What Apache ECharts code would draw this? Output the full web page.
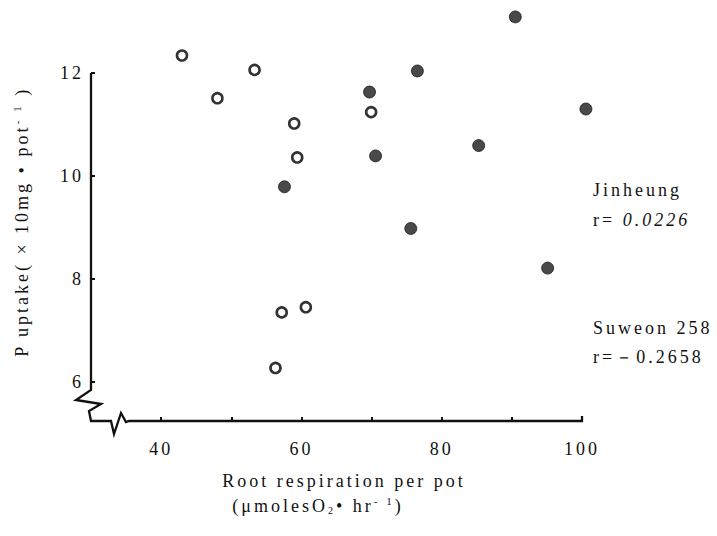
<!DOCTYPE html>
<html>
<head>
<meta charset="utf-8">
<script src="https://cdn.jsdelivr.net/npm/echarts@6/dist/echarts.min.js"></script>
<style>
  html, body { margin: 0; padding: 0; background: #fff; }
  #chart { width: 717px; height: 536px; }
  /* loosely tracked serif typesetting */
  #chart svg text { letter-spacing: 3px; font-family: 'Liberation Serif', serif !important; }
</style>
</head>
<body>
<div id="chart"></div>
<script>
// Root respiration (x) vs. P uptake (y), one pot per point
const suweonX = [42.97, 48.02, 53.32, 58.97, 59.40, 69.94, 57.19, 60.63, 56.30];
const suweonY = [12.34, 11.51, 12.06, 11.02, 10.36, 11.24, 7.35, 7.45, 6.27];
const jinheungX = [57.58, 69.71, 70.57, 75.59, 76.53, 85.27, 90.49, 95.10, 100.56];
const jinheungY = [9.79, 11.63, 10.39, 8.98, 12.04, 10.59, 13.09, 8.21, 11.30];

const xTicks = [40, 50, 60, 70, 80, 90, 100];
const xTickLabels = [40, 60, 80, 100];
const yTickLabels = [6, 8, 10, 12];
const xMin = 30, xMax = 100, yMin = 5.24, yMax = 12;

const serif = 'Liberation Serif, serif';
const ink = '#111';
const TRACKING = 3;

// text measuring that accounts for the letter spacing set in CSS
const measureCtx = document.createElement('canvas').getContext('2d');
echarts.setPlatformAPI({
  measureText: function (text, font) {
    measureCtx.font = font || '12px serif';
    const t = text == null ? '' : String(text);
    return { width: measureCtx.measureText(t).width + TRACKING * t.length };
  }
});

const pairs = (xs, ys) => xs.map((x, i) => [x, ys[i]]);

const chart = echarts.init(document.getElementById('chart'), null, { renderer: 'svg' });

chart.setOption({
  animation: false,
  backgroundColor: '#fff',
  grid: { left: 91, right: 135, top: 73, bottom: 115 },
  xAxis: {
    type: 'value', min: xMin, max: xMax, interval: 10,
    axisLine: { show: false },
    splitLine: { show: false },
    axisTick: { inside: true, length: 4, customValues: xTicks, lineStyle: { color: ink, width: 2 } },
    axisLabel: { customValues: xTickLabels, margin: 17, color: ink, fontFamily: serif, fontSize: 18 }
  },
  yAxis: {
    type: 'value', min: yMin, max: yMax,
    axisLine: { show: false },
    splitLine: { show: false },
    axisTick: { inside: true, length: 4, customValues: yTickLabels, lineStyle: { color: ink, width: 2 } },
    axisLabel: { customValues: yTickLabels, margin: 7, color: ink, fontFamily: serif, fontSize: 18 }
  },
  series: [
    {
      name: 'Suweon 258', type: 'scatter', clip: false,
      symbol: 'circle', symbolSize: 10,
      itemStyle: { color: '#fff', borderColor: '#000', borderWidth: 2.6 },
      data: pairs(suweonX, suweonY)
    },
    {
      name: 'Jinheung', type: 'scatter', clip: false,
      symbol: 'circle', symbolSize: 12,
      itemStyle: { color: '#1b1b1b', borderColor: '#000', borderWidth: 0.8 },
      data: pairs(jinheungX, jinheungY)
    }
  ]
});

// Axis lines with break marks, placed from the axis scales
function drawAxes() {
  const px = (x, y) => chart.convertToPixel({ gridIndex: 0 }, [x, y]);
  const top = px(xMin, yMax);
  const corner = px(xMin, yMin);
  const right = px(xMax, yMin);
  const cx = corner[0], cy = corner[1];
  const axisPath = [
    top,
    [cx, cy - 31],
    [cx - 15, cy - 21],
    [cx + 10, cy - 17],
    [cx - 2, cy - 10],
    [cx, cy],
    [cx + 20, cy],
    [cx + 23, cy + 13],
    [cx + 30, cy - 8],
    [cx + 35, cy + 1],
    [cx + 38, cy],
    right,
    [right[0], cy - 5]
  ];
  const txt = (text, x, y, extra) => ({
    type: 'text', x: x, y: y,
    style: Object.assign({ text: text, fill: ink, font: '18px ' + serif, textVerticalAlign: 'middle' }, extra || {})
  });
  chart.setOption({
    graphic: [
      {
        type: 'polyline', silent: true,
        shape: { points: axisPath },
        style: { stroke: ink, lineWidth: 2.3, fill: null, lineJoin: 'miter' }
      },
      // y-axis title
      {
        type: 'text', x: 22, y: 222, rotation: Math.PI / 2,
        style: {
          text: '{a|P uptake( × 10mg • pot}{s|- 1}{a| )}',
          fill: ink, textAlign: 'center', textVerticalAlign: 'middle',
          rich: {
            a: { fontFamily: serif, fontSize: 18, fill: ink },
            s: { fontFamily: serif, fontSize: 11, fill: ink, padding: [0, 0, 10, 0] }
          }
        }
      },
      // x-axis title
      txt('Root respiration per pot', 344, 481, { textAlign: 'center' }),
      {
        type: 'text', x: 318, y: 506,
        style: {
          text: '{a|(μmolesO}{b|2}{a|• hr}{s|- 1}{a|)}',
          textAlign: 'center', textVerticalAlign: 'middle',
          rich: {
            a: { fontFamily: serif, fontSize: 18, fill: ink },
            b: { fontFamily: serif, fontSize: 10, fill: ink, padding: [8, 0, 0, 0] },
            s: { fontFamily: serif, fontSize: 11, fill: ink, padding: [0, 0, 10, 0] }
          }
        }
      },
      // correlation notes
      txt('Jinheung', 593, 190),
      {
        type: 'text', x: 593, y: 220,
        style: {
          text: '{a|r= }{i|0.0226}', textVerticalAlign: 'middle',
          rich: {
            a: { fontFamily: serif, fontSize: 18, fill: ink },
            i: { fontFamily: serif, fontSize: 18, fontStyle: 'italic', fill: ink }
          }
        }
      },
      txt('Suweon 258', 593, 328),
      txt('r=－0.2658', 593, 357)
    ]
  });
}
drawAxes();
</script>
</body>
</html>
